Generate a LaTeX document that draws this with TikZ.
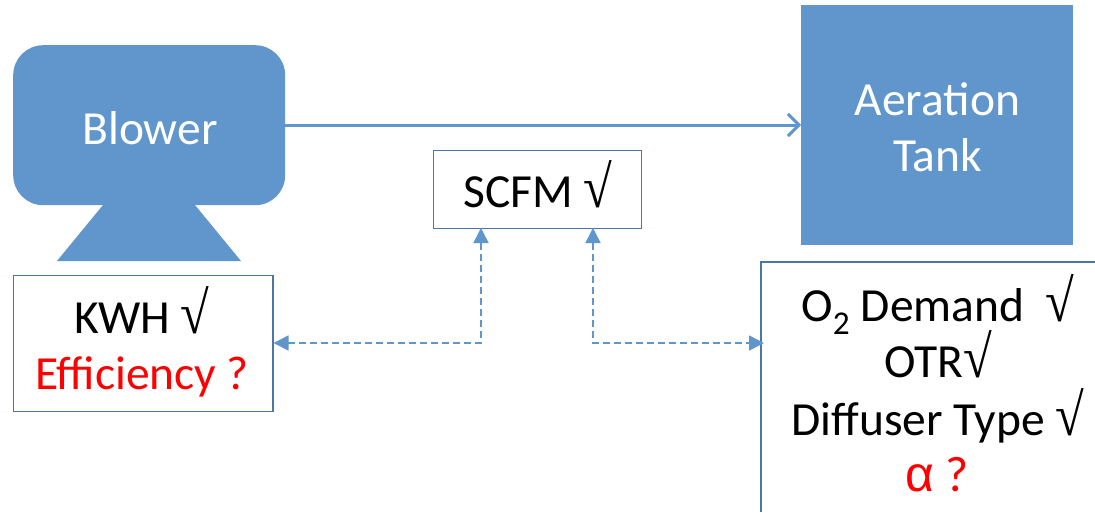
\documentclass[tikz,border=0pt]{standalone}
\usepackage{fontspec}
\usepackage{graphicx}
\setmainfont{Carlito}
\usetikzlibrary{arrows.meta}
\definecolor{bl}{HTML}{6096CB}
\definecolor{edge}{HTML}{4A76A8}
\newfontfamily\symf{Liberation Serif}
\newfontfamily\alf{Liberation Sans}
\tikzset{x=1pt,y=-1pt,
 box/.style={draw=edge,line width=1.8pt,fill=white,inner sep=0,anchor=north west},
 lab/.style={font=\fontsize{47.5}{47.5}\selectfont,inner sep=0,text=black,anchor=base},
 wlab/.style={lab,text=white},
 dashline/.style={draw=bl,line width=1.6pt,dash pattern=on 7pt off 4pt,{Triangle[length=15pt,width=15pt]}-{Triangle[length=15pt,width=15pt]}}}
\newcommand{\chk}{\scalebox{1.1}[1.25]{\symf\char"221A}}
\begin{document}
\begin{tikzpicture}
\useasboundingbox (0,0) rectangle (1095,512);
\fill[bl] (103,205) -- (57,261) -- (241,261) -- (195,205) -- cycle;
\node[fill=bl,rounded corners=30pt,minimum width=272pt,minimum height=160pt,inner sep=0,anchor=north west] (blower) at (13,45) {};
\node[wlab] at (150,144) {Blower};
\node[fill=bl,minimum width=272pt,minimum height=240pt,inner sep=0,anchor=north west] (tank) at (801,5) {};
\node[wlab] at (937.5,115.5) {Aeration};
\node[wlab] at (937.5,171) {Tank};
\draw[bl,line width=3pt,-{Straight Barb[length=11pt,width=22pt]}] (285,125) -- (801,125);
\node[box,minimum width=208pt,minimum height=78pt] (scfm) at (432.5,149.5) {};
\node[lab] at (538,207.5) {SCFM \chk};
\node[box,minimum width=259.5pt,minimum height=136pt] (kwh) at (12.5,274.5) {};
\node[lab] at (142,333) {KWH \chk};
\node[lab,text=red] at (142,389) {Efficiency ?};
\path[draw=edge,line width=1.8pt] (1095,262) -- (761,262) -- (761,512);
\coordinate (o2) at (764,343);
\node[lab] at (938,321) {O\textsubscript{2} Demand\ \ \chk};
\node[lab] at (938,377) {OTR\chk};
\node[lab] at (938,435) {Diffuser Type \chk};
\node[lab,text=red] at (937,491) {\fontsize{50}{50}\selectfont{\alf α} ?};
\coordinate (c1) at (481,343);
\coordinate (c2) at (593,343);
\draw[dashline] (273.5,343) -- (c1) -- (481,228);
\draw[dashline] (593,228) -- (c2) -- (o2);
\end{tikzpicture}
\end{document}
